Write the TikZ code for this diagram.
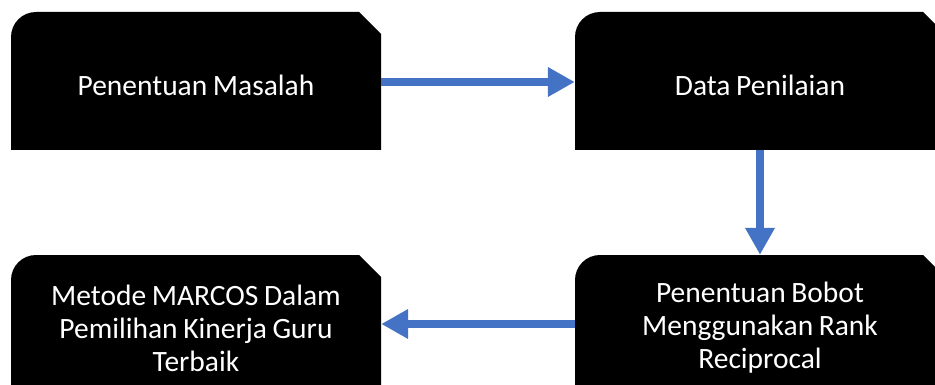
\documentclass[tikz,border=0pt]{standalone}
\usepackage{fontspec}
\setmainfont{Carlito}
\usetikzlibrary{arrows.meta}
\definecolor{flowblue}{HTML}{4472C4}
\tikzset{
	flowbox/.style={minimum width=370pt, minimum height=146pt, inner sep=0pt,
		text=white, text width=350pt, align=center,
		font=\fontsize{29.5}{33}\selectfont,
		execute at begin node={\spaceskip=0.19em\relax},
		path picture={\fill[black] ([yshift=8pt]path picture bounding box.south west)
			-- ([yshift=-25pt]path picture bounding box.north west)
			arc[start angle=180, end angle=90, radius=25pt]
			-- ([xshift=-22pt]path picture bounding box.north east)
			-- ([yshift=-22pt]path picture bounding box.north east)
			-- ([yshift=8pt]path picture bounding box.south east) -- cycle;}},
	flowarrow/.style={line width=8pt, flowblue, -{Triangle[length=27pt,width=28pt]}}
}
\begin{document}
\begin{tikzpicture}[x=1pt,y=1pt]
		\useasboundingbox (0,0) rectangle (935,-385);
		\clip (0,0) rectangle (935,-385);
		% boxes (text sits a little below the middle)
		\node[flowbox] (masalah) at (196,-85) {Penentuan Masalah};
		\node[flowbox] (data) at (760,-85) {Data Penilaian};
		\node[flowbox] (bobot) at (760,-328) {Penentuan Bobot\\Menggunakan Rank\\Reciprocal};
		\node[flowbox] (marcos) at (196,-328) {Metode MARCOS Dalam\\Pemilihan Kinerja Guru\\Terbaik};
		% arrows
		\draw[flowarrow] (masalah.east |- 0,-82) -- (data.west |- 0,-82);
		\draw[flowarrow] ([yshift=8pt]data.south) -- (bobot.north);
		\draw[flowarrow] (bobot.west |- 0,-324) -- (marcos.east |- 0,-324);
	\end{tikzpicture}
\end{document}
